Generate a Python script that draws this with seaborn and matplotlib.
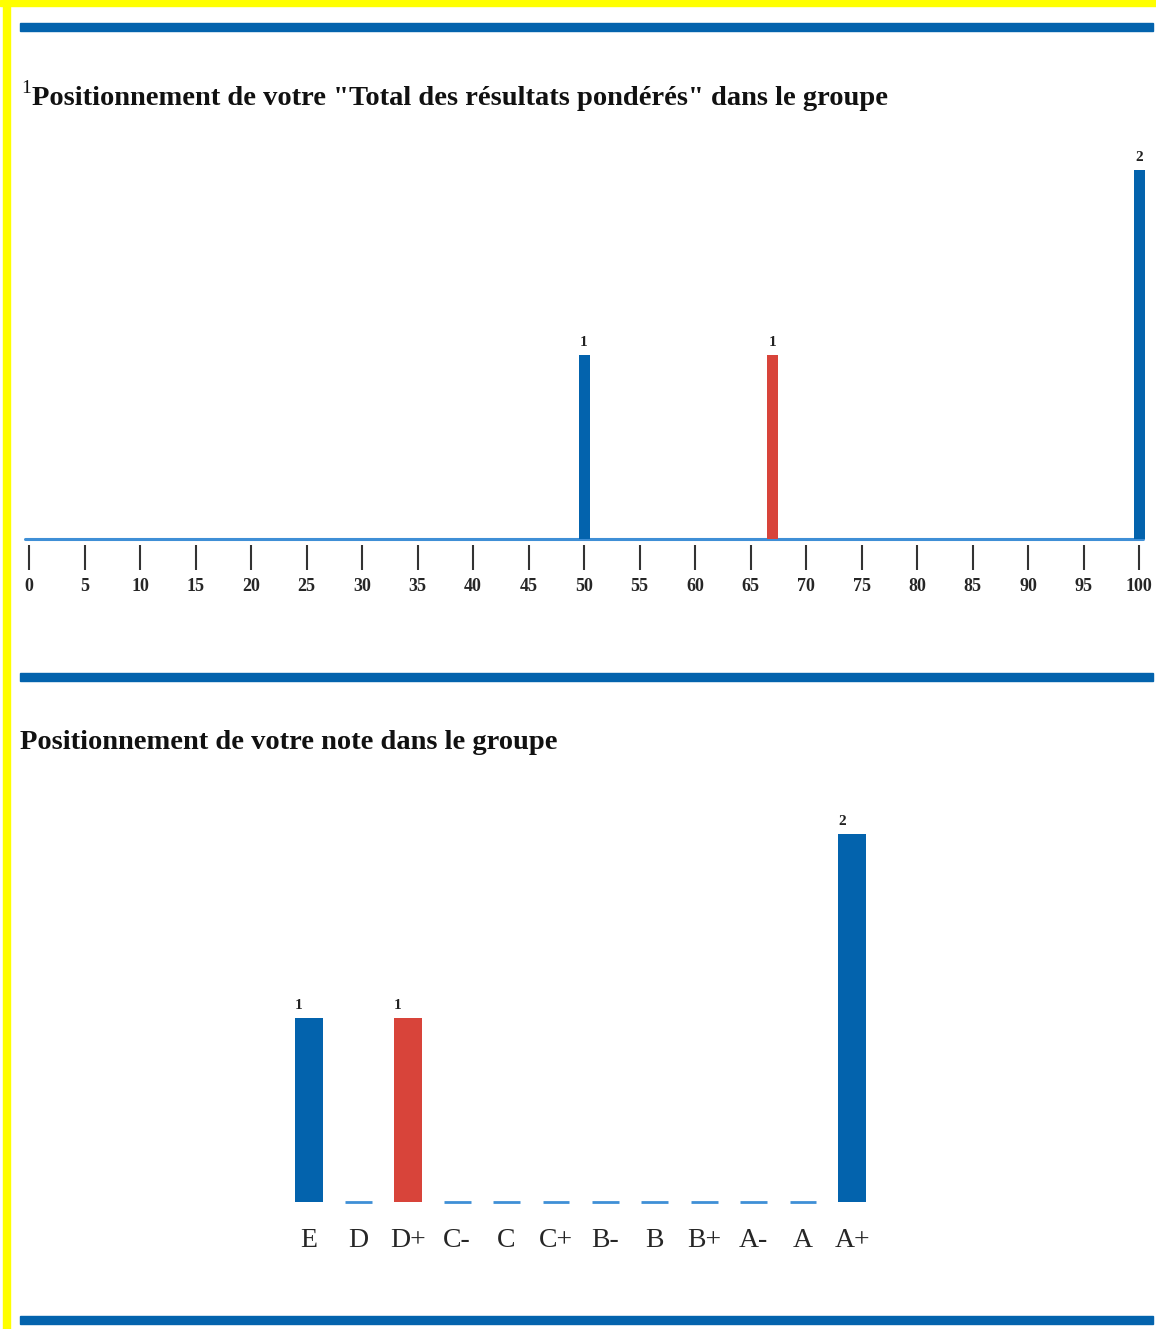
import numpy as np
import pandas as pd
import matplotlib
matplotlib.use("Agg")
import matplotlib.pyplot as plt
from matplotlib.patches import Rectangle
import seaborn as sns

# donnees graphique 1 : total des resultats ponderes
scores = [50, 67, 100]
nb_scores = [1, 1, 2]
mon_score = [False, True, False]
ticks_scores = list(range(0, 101, 5))

# donnees graphique 2 : notes
notes = ["E", "D", "D+", "C-", "C", "C+", "B-", "B", "B+", "A-", "A", "A+"]
nb_notes = [1, 0, 1, 0, 0, 0, 0, 0, 0, 0, 0, 2]
ma_note = "D+"

titre1 = "Positionnement de votre \"Total des résultats pondérés\" dans le groupe"
titre2 = "Positionnement de votre note dans le groupe"

bleu = "#0363ad"
rouge = "#d8443a"
bleu_clair = "#3f8fd6"
serif = ["Liberation Serif", "DejaVu Serif"]

sns.set_style("white")
W, H = 1156, 1329
fig = plt.figure(figsize=(W / 100, H / 100), dpi=100)

def px_box(x0, y0, x1, y1):
    # pixels (haut-gauche) -> coordonnees figure
    return [x0 / W, 1 - y1 / H, (x1 - x0) / W, (y1 - y0) / H]

# cadre jaune et filets bleus
for (x0, y0, x1, y1, c) in [(0, 0, W, 6, "#ffff00"), (3, 0, 10, H, "#ffff00"),
                            (20, 23, 1153, 31, bleu), (20, 673, 1153, 681, bleu),
                            (20, 1316, 1153, 1324, bleu)]:
    b = px_box(x0, y0, x1, y1)
    fig.patches.append(Rectangle((b[0], b[1]), b[2], b[3], transform=fig.transFigure,
                                 color=c, zorder=0))

# titres
fig.text(21 / W, 1 - 93 / H, "1", fontsize=14, family=serif, color="#111111", va="baseline")
fig.text(32 / W, 1 - 105 / H, titre1, fontsize=20.5, fontweight="bold", family=serif,
         color="#111111", va="baseline")
fig.text(20 / W, 1 - 749 / H, titre2, fontsize=20.5, fontweight="bold", family=serif,
         color="#111111", va="baseline")

# ---- graphique 1 ----
px_unit = 11.1   # pixels par point
x0_px = 29       # position du 0
base1 = 539
ax1 = fig.add_axes(px_box(20, 150, 1150, base1))
df1 = pd.DataFrame({"score": scores, "n": nb_scores, "moi": mon_score})
larg = 11 / px_unit / min(np.diff(sorted(scores)))
sns.barplot(data=df1, x="score", y="n", hue="moi", native_scale=True, dodge=False,
            palette={False: bleu, True: rouge}, saturation=1, width=larg, legend=False,
            ax=ax1, linewidth=0, zorder=3)
ax1.set_xlim((20 - x0_px) / px_unit, (1150 - x0_px) / px_unit)
ax1.set_ylim(0, (base1 - 150) / 184.5)
ax1.axhline(0, xmin=5 / 1130, xmax=1123 / 1130, color=bleu_clair, lw=2.2, zorder=2,
            clip_on=False)
for s, n in zip(scores, nb_scores):
    ax1.text(s, n + 0.03, str(n), ha="center", va="bottom", fontsize=11,
             fontweight="bold", family=serif, color="#222222")
for sp in ax1.spines.values():
    sp.set_visible(False)
ax1.spines["bottom"].set_position(("outward", 4))
ax1.set_xticks(ticks_scores)
ax1.set_xticklabels([str(t) for t in ticks_scores], fontsize=13, fontweight="bold",
                    family=serif)
ax1.set_yticks([])
ax1.set_xlabel("")
ax1.set_ylabel("")
ax1.tick_params(axis="x", bottom=True, length=18, width=1.5, color="#333333",
                pad=6, direction="out")
ax1.patch.set_alpha(0)

# ---- graphique 2 ----
pas = 49.4
base2 = 1202
ax2 = fig.add_axes(px_box(260, 810, 900, base2))
df2 = pd.DataFrame({"note": notes, "n": nb_notes})
df2["moi"] = df2["note"] == ma_note
sns.barplot(data=df2, x="note", y="n", hue="moi", order=notes, dodge=False,
            palette={False: bleu, True: rouge}, saturation=1, width=0.57, legend=False,
            ax=ax2, linewidth=0, zorder=3)
ax2.set_xlim((260 - 309) / pas, (900 - 309) / pas)
ax2.set_ylim(0, (base2 - 810) / 184)
vides = [i for i, n in enumerate(nb_notes) if n == 0]
ax2.hlines([0] * len(vides), [i - 0.27 for i in vides], [i + 0.27 for i in vides],
           color=bleu_clair, lw=2, zorder=2, clip_on=False)
for i, n in enumerate(nb_notes):
    if n > 0:
        ax2.text(i - 0.285, n + 0.03, str(n), ha="left", va="bottom", fontsize=11,
                 fontweight="bold", family=serif, color="#222222")
for sp in ax2.spines.values():
    sp.set_visible(False)
ax2.set_xticks(range(len(notes)))
ax2.set_xticklabels(notes, fontsize=20, family=serif)
ax2.set_yticks([])
ax2.set_xlabel("")
ax2.set_ylabel("")
ax2.tick_params(axis="x", bottom=False, pad=15)
ax2.patch.set_alpha(0)

fig.savefig("out.png", dpi=100)
